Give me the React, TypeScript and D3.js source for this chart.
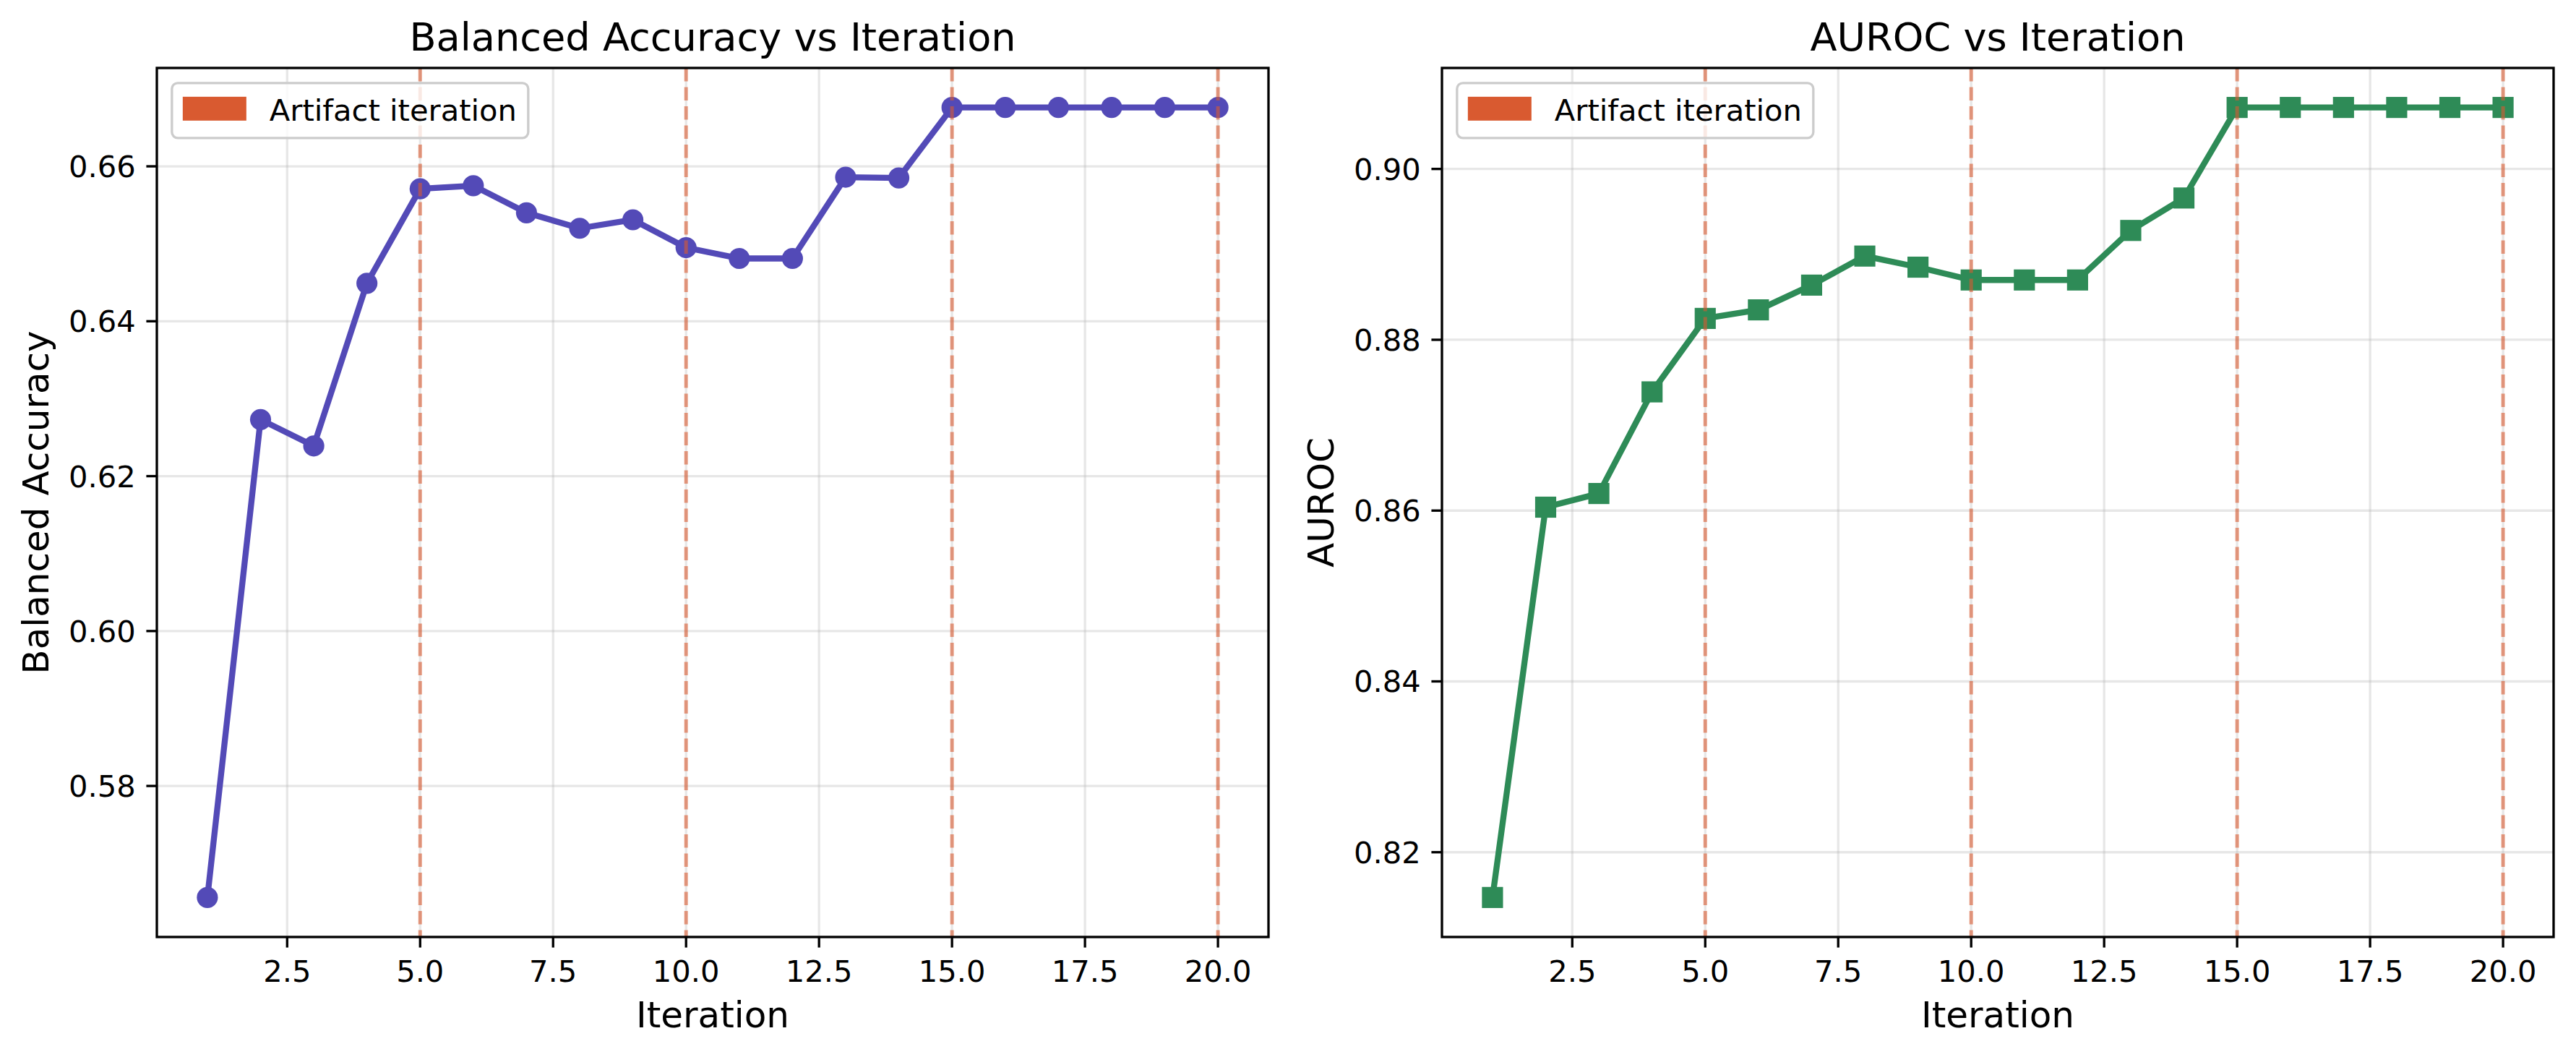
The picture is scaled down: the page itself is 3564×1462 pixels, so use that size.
import React from "react";
import * as d3 from "d3";

// figure is rendered at 300 dpi, so 1pt = 300/72 px
const PT = 300 / 72;
const W = 3564;
const H = 1462;
const FONT = "DejaVu Sans, Liberation Sans, sans-serif";

const iterations = d3.range(1, 21);
const balancedAccuracy = [
  0.5656, 0.6273, 0.6239, 0.6449, 0.6571, 0.6575, 0.654, 0.652, 0.6531, 0.6495,
  0.6481, 0.6481, 0.6586, 0.6585, 0.6676, 0.6676, 0.6676, 0.6676, 0.6676, 0.6676,
];
const auroc = [
  0.8147, 0.8604, 0.862, 0.8739, 0.8825, 0.8835, 0.8864, 0.8898, 0.8885, 0.887,
  0.887, 0.887, 0.8928, 0.8966, 0.9072, 0.9072, 0.9072, 0.9072, 0.9072, 0.9072,
];
const artifactIterations = [5, 10, 15, 20];
const xTicks = [2.5, 5, 7.5, 10, 12.5, 15, 17.5, 20];
const balTicks = [0.58, 0.6, 0.62, 0.64, 0.66];
const aurocTicks = [0.82, 0.84, 0.86, 0.88, 0.9];

const ARTIFACT = "#d95a30";
const TOP = 94;
const BOTTOM = 1296;

// matplotlib-style autoscale: data extent padded by 5% on each side
function padded(ext: [number, number]): [number, number] {
  const m = (ext[1] - ext[0]) * 0.05;
  return [ext[0] - m, ext[1] + m];
}

type PanelProps = {
  left: number;
  right: number;
  title: string;
  ylabel: string;
  values: number[];
  yTicks: number[];
  color: string;
  marker: "circle" | "square";
};

function Panel({ left, right, title, ylabel, values, yTicks, color, marker }: PanelProps) {
  const x = d3.scaleLinear().domain(padded([1, 20])).range([left, right]);
  const y = d3
    .scaleLinear()
    .domain(padded(d3.extent(values) as [number, number]))
    .range([BOTTOM, TOP]);
  const pts = iterations.map((it, i) => [x(it), y(values[i])] as [number, number]);
  const line = d3.line();
  const fmtX = d3.format(".1f");
  const fmtY = d3.format(".2f");
  const tickLen = 3.5 * PT;
  const tickPad = 3.5 * PT;
  const ms = 6 * PT + 1 * PT;
  const legX = left + 0.5 * 10 * PT;
  const legY = TOP + 0.5 * 10 * PT;

  return (
    <g>
      {/* grid */}
      <g stroke="#b0b0b0" strokeOpacity={0.3} strokeWidth={0.8 * PT}>
        {xTicks.map((t) => (
          <line key={"gx" + t} x1={x(t)} x2={x(t)} y1={TOP} y2={BOTTOM} />
        ))}
        {yTicks.map((t) => (
          <line key={"gy" + t} x1={left} x2={right} y1={y(t)} y2={y(t)} />
        ))}
      </g>

      {/* series */}
      <path d={line(pts) || ""} fill="none" stroke={color} strokeWidth={2 * PT} strokeLinejoin="round" />
      {pts.map(([px, py], i) =>
        marker === "circle" ? (
          <circle key={i} cx={px} cy={py} r={ms / 2} fill={color} />
        ) : (
          <rect key={i} x={px - ms / 2} y={py - ms / 2} width={ms} height={ms} fill={color} />
        )
      )}

      {/* artifact iterations */}
      {artifactIterations.map((a) => (
        <line
          key={"a" + a}
          x1={x(a)}
          x2={x(a)}
          y1={TOP}
          y2={BOTTOM}
          stroke={ARTIFACT}
          strokeOpacity={0.6}
          strokeWidth={1.2 * PT}
          strokeDasharray={`${3.7 * 1.2 * PT} ${1.6 * 1.2 * PT}`}
        />
      ))}

      {/* spines */}
      <rect
        x={left}
        y={TOP}
        width={right - left}
        height={BOTTOM - TOP}
        fill="none"
        stroke="#000"
        strokeWidth={0.8 * PT}
      />

      {/* x axis */}
      <g fontFamily={FONT} fontSize={10 * PT} textAnchor="middle">
        {xTicks.map((t) => (
          <g key={"tx" + t}>
            <line x1={x(t)} x2={x(t)} y1={BOTTOM} y2={BOTTOM + tickLen} stroke="#000" strokeWidth={0.8 * PT} />
            <text x={x(t)} y={1358}>
              {fmtX(t)}
            </text>
          </g>
        ))}
      </g>
      <text x={(left + right) / 2} y={1421} fontFamily={FONT} fontSize={12 * PT} textAnchor="middle">
        Iteration
      </text>

      {/* y axis */}
      <g fontFamily={FONT} fontSize={10 * PT} textAnchor="end">
        {yTicks.map((t) => (
          <g key={"ty" + t}>
            <line x1={left - tickLen} x2={left} y1={y(t)} y2={y(t)} stroke="#000" strokeWidth={0.8 * PT} />
            <text x={left - tickLen - tickPad} y={y(t) + 15}>
              {fmtY(t)}
            </text>
          </g>
        ))}
      </g>
      <text
        transform={`translate(${left - 150},${(TOP + BOTTOM) / 2}) rotate(-90)`}
        fontFamily={FONT}
        fontSize={12 * PT}
        textAnchor="middle"
      >
        {ylabel}
      </text>

      {/* title */}
      <text x={(left + right) / 2} y={70} fontFamily={FONT} fontSize={13 * PT} textAnchor="middle">
        {title}
      </text>

      {/* legend */}
      <g>
        <rect
          x={legX}
          y={legY}
          width={493}
          height={76}
          rx={8}
          fill="#fff"
          fillOpacity={0.8}
          stroke="#cccccc"
          strokeWidth={0.8 * PT}
        />
        <rect x={legX + 15} y={legY + 19} width={88} height={33} fill={ARTIFACT} />
        <text x={legX + 135} y={legY + 52} fontFamily={FONT} fontSize={10 * PT}>
          Artifact iteration
        </text>
      </g>
    </g>
  );
}

export default function App() {
  return (
    <svg
      width={W}
      height={H}
      viewBox={`0 0 ${W} ${H}`}
      style={{ position: "absolute", left: 0, top: 0, display: "block" }}
    >
      <rect width={W} height={H} fill="#fff" />
      <Panel
        left={217}
        right={1755}
        title="Balanced Accuracy vs Iteration"
        ylabel="Balanced Accuracy"
        values={balancedAccuracy}
        yTicks={balTicks}
        color="#534ab7"
        marker="circle"
      />
      <Panel
        left={1995}
        right={3533}
        title="AUROC vs Iteration"
        ylabel="AUROC"
        values={auroc}
        yTicks={aurocTicks}
        color="#2e8b57"
        marker="square"
      />
    </svg>
  );
}
